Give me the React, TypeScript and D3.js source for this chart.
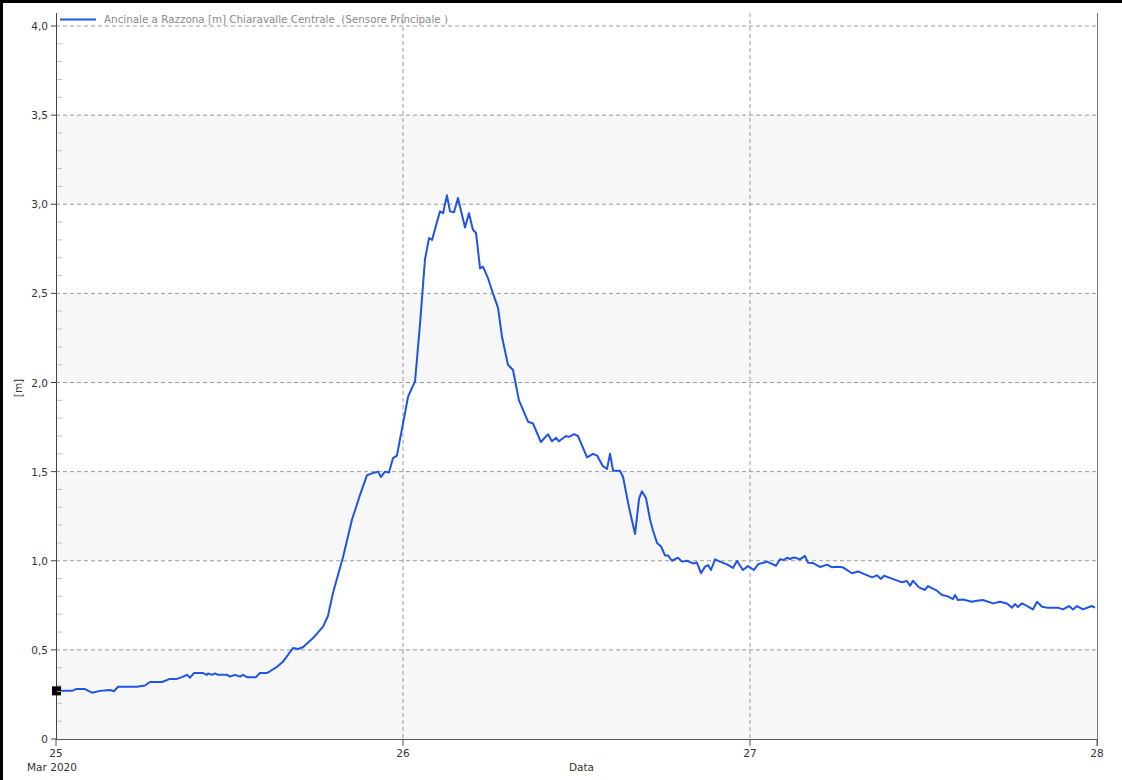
import React from 'react';
import * as d3 from 'd3';

const START = new Date(2020, 2, 25, 0, 0);
const END = new Date(2020, 2, 28, 0, 0);

// hours since 25 Mar 2020 00:00
const HOURS = [
  0, 0.28, 1.11, 1.38, 2.0, 2.49, 3.04, 3.73, 4.01, 4.29, 5.6, 6.16, 6.5, 7.33, 7.88, 8.37, 8.71, 9.06, 9.27, 9.54,
  10.17, 10.44, 10.52, 10.79, 11.0, 11.2, 11.83, 12.03, 12.38, 12.73, 12.93, 13.21, 13.83, 14.11, 14.59, 14.8, 15.29, 15.7, 16.39, 16.74,
  17.08, 17.78, 18.47, 18.81, 19.16, 19.85, 20.47, 21.03, 21.51, 21.86, 22.27, 22.48, 22.75, 23.03, 23.31, 23.58, 23.79, 24.0, 24.35, 24.62,
  24.83, 25.18, 25.52, 25.8, 26.01, 26.35, 26.56, 26.77, 27.04, 27.25, 27.53, 27.8, 28.29, 28.56, 28.84, 29.05, 29.33, 29.53, 29.88, 30.22,
  30.57, 30.85, 31.26, 31.61, 32.02, 32.65, 32.99, 33.54, 34.03, 34.3, 34.58, 34.79, 35.27, 35.48, 35.83, 36.1, 36.73, 37.14, 37.42, 37.83,
  38.11, 38.32, 38.53, 39.01, 39.22, 39.63, 40.05, 40.33, 40.53, 40.81, 41.09, 41.29, 41.57, 41.85, 42.12, 42.33, 42.6, 43.02, 43.3, 43.64,
  44.06, 44.33, 44.61, 44.89, 45.1, 45.3, 45.58, 45.92, 46.41, 46.82, 47.1, 47.51, 47.86, 48.28, 48.55, 49.18, 49.8, 50.07, 50.35, 50.56,
  50.77, 51.04, 51.46, 51.8, 52.01, 52.36, 52.84, 53.33, 53.67, 53.94, 54.43, 55.05, 55.47, 56.44, 56.78, 57.06, 57.27, 57.82, 58.51, 58.86,
  59.07, 59.27, 59.69, 60.1, 60.31, 60.93, 61.28, 61.69, 62.04, 62.18, 62.38, 62.73, 63.35, 63.7, 64.11, 64.81, 65.29, 65.77, 66.12, 66.33,
  66.53, 66.81, 67.08, 67.57, 67.85, 68.2, 68.54, 69.3, 69.65, 70.06, 70.34, 70.62, 71.03, 71.65, 71.86,
];

const LEVEL = [
  0.27, 0.27, 0.27, 0.28, 0.28, 0.26, 0.27, 0.275, 0.268, 0.293, 0.293, 0.3, 0.32, 0.32, 0.337, 0.337, 0.347, 0.36, 0.344, 0.37,
  0.37, 0.36, 0.368, 0.36, 0.368, 0.36, 0.36, 0.35, 0.36, 0.35, 0.36, 0.347, 0.347, 0.37, 0.37, 0.38, 0.405, 0.434, 0.51, 0.505,
  0.515, 0.566, 0.63, 0.69, 0.82, 1.02, 1.23, 1.37, 1.48, 1.49, 1.5, 1.47, 1.5, 1.495, 1.576, 1.59, 1.68, 1.77, 1.92, 1.97,
  2.005, 2.33, 2.69, 2.81, 2.8, 2.9, 2.96, 2.95, 3.05, 2.96, 2.955, 3.035, 2.87, 2.95, 2.855, 2.84, 2.64, 2.65, 2.585, 2.5,
  2.42, 2.255, 2.1, 2.07, 1.9, 1.78, 1.77, 1.666, 1.71, 1.67, 1.69, 1.67, 1.7, 1.695, 1.71, 1.7, 1.58, 1.6, 1.59, 1.53,
  1.515, 1.6, 1.505, 1.505, 1.47, 1.3, 1.15, 1.35, 1.39, 1.35, 1.23, 1.17, 1.1, 1.08, 1.03, 1.03, 1.0, 1.017, 0.995, 1.0,
  0.985, 0.99, 0.93, 0.967, 0.976, 0.948, 1.008, 0.995, 0.98, 0.96, 0.999, 0.948, 0.97, 0.948, 0.98, 0.995, 0.972, 1.008, 1.004, 1.017,
  1.01, 1.019, 1.008, 1.027, 0.989, 0.987, 0.965, 0.978, 0.963, 0.966, 0.963, 0.93, 0.94, 0.907, 0.918, 0.898, 0.916, 0.9, 0.879, 0.886,
  0.86, 0.888, 0.851, 0.836, 0.858, 0.832, 0.808, 0.8, 0.785, 0.808, 0.78, 0.783, 0.77, 0.775, 0.78, 0.761, 0.77, 0.76, 0.737, 0.757,
  0.74, 0.761, 0.75, 0.727, 0.77, 0.742, 0.737, 0.737, 0.727, 0.746, 0.727, 0.746, 0.727, 0.746, 0.737,
];

const X_TICK_DAYS = [25, 26, 27, 28];
const X_TICK_LABELS = ['25', '26', '27', '28'];
const X_SUB_LABEL = 'Mar 2020';
const Y_TICKS = [0, 0.5, 1, 1.5, 2, 2.5, 3, 3.5, 4];
const Y_TICK_LABELS = ['0', '0,5', '1,0', '1,5', '2,0', '2,5', '3,0', '3,5', '4,0'];
const SERIES_NAME = 'Ancinale a Razzona [m] Chiaravalle Centrale  (Sensore Principale )';
const X_TITLE = 'Data';
const Y_TITLE = '[m]';

const W = 1122;
const H = 780;
const L = 56;
const R = 1097;
const TOP = 13;
const B = 739;

export default function App() {
  const x = d3.scaleTime().domain([START, END]).range([L, R]);
  const y = d3.scaleLinear().domain([0, 4]).range([B, 26]);
  const data = HOURS.map((h, i) => ({ t: new Date(START.getTime() + h * 3600000), v: LEVEL[i] }));
  const line = d3
    .line<{ t: Date; v: number }>()
    .x((d) => x(d.t))
    .y((d) => y(d.v));
  const font = 'DejaVu Sans, Verdana, sans-serif';
  const bands = d3.range(8);
  const minor = d3.range(0, 41).filter((i) => i % 5 !== 0).map((i) => i / 10);
  const dayDate = (d: number) => new Date(2020, 2, d, 0, 0);
  const x0 = x(data[0].t);
  const y0 = y(data[0].v);

  return (
    <svg
      width={W}
      height={H}
      style={{ position: 'absolute', left: 0, top: 0, display: 'block', background: '#fff' }}
      fontFamily={font}
    >
      <rect x={0} y={0} width={W} height={H} fill="#fff" />
      {bands.map((i) => (
        <rect
          key={i}
          x={L}
          y={y((i + 1) * 0.5)}
          width={R - L}
          height={y(i * 0.5) - y((i + 1) * 0.5)}
          fill={i % 2 === 0 ? '#f7f7f7' : '#ffffff'}
        />
      ))}
      {Y_TICKS.filter((v) => v > 0).map((v) => (
        <line key={v} x1={L} x2={R} y1={y(v)} y2={y(v)} stroke="#9a9a9a" strokeWidth={1} strokeDasharray="4,3" />
      ))}
      {X_TICK_DAYS.slice(1, -1).map((d) => (
        <line key={d} x1={x(dayDate(d))} x2={x(dayDate(d))} y1={TOP} y2={B} stroke="#9a9a9a" strokeWidth={1} strokeDasharray="4,3" />
      ))}
      {/* right border */}
      <line x1={R + 0.5} x2={R + 0.5} y1={TOP} y2={B + 7} stroke="#777" strokeWidth={1} />
      {/* minor y ticks */}
      {minor.map((v) => (
        <line key={v} x1={L} x2={L + 6} y1={y(v)} y2={y(v)} stroke="#c4c4c4" strokeWidth={1} />
      ))}
      {/* axes */}
      <line x1={L + 0.5} x2={L + 0.5} y1={TOP} y2={B} stroke="#444" strokeWidth={1} />
      <line x1={L} x2={R} y1={B + 0.5} y2={B + 0.5} stroke="#555" strokeWidth={1} />
      {Y_TICKS.map((v, i) => (
        <g key={v}>
          <line x1={L - 5} x2={L} y1={y(v)} y2={y(v)} stroke="#444" strokeWidth={1} />
          <text x={L - 8} y={y(v) + 4} textAnchor="end" fontSize={10.5} fill="#333">
            {Y_TICK_LABELS[i]}
          </text>
        </g>
      ))}
      {X_TICK_DAYS.map((d, i) => (
        <g key={d}>
          <line x1={x(dayDate(d))} x2={x(dayDate(d))} y1={B} y2={B + 7} stroke="#555" strokeWidth={1} />
          <text x={x(dayDate(d))} y={757} textAnchor="middle" fontSize={10.5} fill="#333">
            {X_TICK_LABELS[i]}
          </text>
        </g>
      ))}
      <text x={x(dayDate(25)) - 4} y={771} textAnchor="middle" fontSize={10.5} fill="#333">
        {X_SUB_LABEL}
      </text>
      <text x={(L + R) / 2 + 5} y={771} textAnchor="middle" fontSize={10.5} fill="#333">
        {X_TITLE}
      </text>
      <text transform={`translate(22, 388) rotate(-90)`} textAnchor="middle" fontSize={10.5} fill="#333">
        {Y_TITLE}
      </text>
      {/* series */}
      <path d={line(data) || ''} fill="none" stroke="#1f54e6" strokeWidth={2} strokeLinejoin="round" />
      {/* start marker */}
      <rect x={x0 - 4} y={y0 - 4.5} width={9} height={9} fill="#000" />
      <line x1={x0 + 1} x2={x0 + 5} y1={y0 + 0.5} y2={y0 + 0.5} stroke="#c8a000" strokeWidth={1} />
      {/* legend */}
      <line x1={60} x2={96} y1={19.5} y2={19.5} stroke="#1f54e6" strokeWidth={2} />
      <text x={104} y={23} fontSize={10.5} fill="#8a8a8a" style={{ whiteSpace: 'pre' }} textLength={344} lengthAdjust="spacingAndGlyphs">
        {SERIES_NAME}
      </text>
      {/* outer frame (top & left) */}
      <rect x={0} y={0} width={W} height={3} fill="#000" />
      <rect x={0} y={0} width={3} height={H} fill="#000" />
    </svg>
  );
}
